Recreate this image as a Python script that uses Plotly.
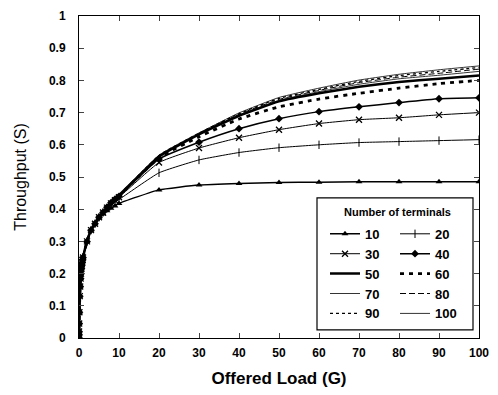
import plotly.graph_objects as go

G = [0, 0.01, 0.02, 0.05, 0.1, 0.2, 0.3, 0.4, 0.5, 0.6, 0.7, 0.8, 0.9, 1,
     2, 3, 4, 5, 6, 7, 8, 9, 10, 20, 30, 40, 50, 60, 70, 80, 90, 100]

low = [0, 0.01, 0.02, 0.045, 0.08, 0.13, 0.16, 0.185, 0.2, 0.215, 0.225, 0.235, 0.243, 0.25,
       0.30, 0.335, 0.355, 0.375]

s10 = low + [0.385, 0.395, 0.403, 0.41, 0.418, 0.46, 0.475, 0.48, 0.483, 0.484, 0.485, 0.485, 0.485, 0.485]
s20 = low + [0.39, 0.403, 0.413, 0.422, 0.43, 0.513, 0.553, 0.576, 0.591, 0.60, 0.607, 0.61, 0.613, 0.616]
s30 = low + [0.39, 0.405, 0.418, 0.428, 0.437, 0.545, 0.59, 0.622, 0.647, 0.666, 0.678, 0.684, 0.693, 0.70]
s40 = low + [0.39, 0.406, 0.42, 0.431, 0.44, 0.556, 0.608, 0.65, 0.681, 0.703, 0.718, 0.731, 0.743, 0.746]
s50 = low + [0.39, 0.407, 0.421, 0.433, 0.443, 0.563, 0.632, 0.69, 0.735, 0.76, 0.78, 0.795, 0.805, 0.815]
s60 = low + [0.39, 0.407, 0.421, 0.433, 0.442, 0.56, 0.625, 0.68, 0.718, 0.742, 0.76, 0.776, 0.79, 0.80]
s70 = low + [0.39, 0.407, 0.421, 0.433, 0.443, 0.565, 0.634, 0.693, 0.738, 0.765, 0.788, 0.805, 0.816, 0.828]
s80 = low + [0.39, 0.407, 0.421, 0.433, 0.443, 0.566, 0.635, 0.695, 0.741, 0.769, 0.793, 0.81, 0.822, 0.835]
s90 = low + [0.39, 0.407, 0.421, 0.433, 0.443, 0.567, 0.636, 0.697, 0.744, 0.772, 0.797, 0.815, 0.828, 0.84]
s100 = low + [0.39, 0.407, 0.421, 0.433, 0.443, 0.568, 0.637, 0.699, 0.747, 0.776, 0.801, 0.819, 0.833, 0.845]

names = ["10", "20", "30", "40", "50", "60", "70", "80", "90", "100"]
series = [s10, s20, s30, s40, s50, s60, s70, s80, s90, s100]

styles = {
    "10": dict(line=dict(width=1.5, dash="solid"), mode="lines+markers",
               marker=dict(symbol="triangle-up", size=6)),
    "20": dict(line=dict(width=1, dash="solid"), mode="lines+markers",
               marker=dict(symbol="line-ns", size=6, line=dict(width=1, color="black"))),
    "30": dict(line=dict(width=1, dash="solid"), mode="lines+markers",
               marker=dict(symbol="x-thin", size=6, line=dict(width=1.3, color="black"))),
    "40": dict(line=dict(width=1.5, dash="solid"), mode="lines+markers",
               marker=dict(symbol="diamond", size=6)),
    "50": dict(line=dict(width=2.5, dash="solid"), mode="lines"),
    "60": dict(line=dict(width=2.8, dash="4px,5px"), mode="lines"),
    "70": dict(line=dict(width=0.8, dash="solid"), mode="lines"),
    "80": dict(line=dict(width=1, dash="6px,3px"), mode="lines"),
    "90": dict(line=dict(width=1.3, dash="dot"), mode="lines"),
    "100": dict(line=dict(width=0.8, dash="solid"), mode="lines"),
}

fig = go.Figure()
for i, (n, s) in enumerate(zip(names, series)):
    st = styles[n]
    line = dict(color="black", shape="spline", smoothing=0.4, **st["line"])
    kw = dict(x=G, y=s, name=n, mode=st["mode"], line=line,
              legend="legend" if i % 2 == 0 else "legend2")
    if "marker" in st:
        m = dict(color="black", **st["marker"])
        kw["marker"] = m
    fig.add_trace(go.Scatter(**kw))

tickfont = dict(family="Liberation Sans", size=12, color="black", weight="bold")
legfont = dict(family="Liberation Sans", size=13, color="black", weight="bold")

fig.update_layout(
    width=498, height=395,
    margin=dict(l=79, r=9, t=15, b=57),
    paper_bgcolor="white", plot_bgcolor="white",
    showlegend=True,
    legend=dict(x=0.615, y=0.37, xanchor="left", yanchor="top", bgcolor="rgba(0,0,0,0)",
                font=legfont, tracegroupgap=0, itemwidth=30),
    legend2=dict(x=0.79, y=0.37, xanchor="left", yanchor="top", bgcolor="rgba(0,0,0,0)",
                 font=legfont, tracegroupgap=0, itemwidth=30),
    xaxis=dict(range=[0, 100], dtick=10, tick0=0, ticks="inside", ticklen=5,
               showline=True, linecolor="black", linewidth=1, mirror="allticks",
               showgrid=False, zeroline=False, tickfont=tickfont, ticklabelstandoff=4,
               ticklabeloverflow="allow",
               title=dict(text="Offered Load (G)", standoff=12,
                          font=dict(family="Liberation Sans", size=17, color="black", weight="bold"))),
    yaxis=dict(range=[0, 1], dtick=0.1, tick0=0, ticks="inside", ticklen=5,
               showline=True, linecolor="black", linewidth=1, mirror="allticks",
               showgrid=False, zeroline=False, tickfont=tickfont, ticklabelstandoff=10,
               title=dict(text="Throughput (S)", standoff=18,
                          font=dict(family="Liberation Sans", size=16, color="black"))),
    shapes=[dict(type="rect", xref="paper", yref="paper", x0=0.595, x1=0.985, y0=0.025, y1=0.435,
                 line=dict(color="black", width=1.2), fillcolor="white", layer="below")],
    annotations=[dict(text="Number of terminals", xref="paper", yref="paper", x=0.795, y=0.39,
                      xanchor="center", yanchor="middle", showarrow=False,
                      font=dict(family="Liberation Sans", size=11, color="black", weight="bold"))],
)

fig.write_html("out.html")
